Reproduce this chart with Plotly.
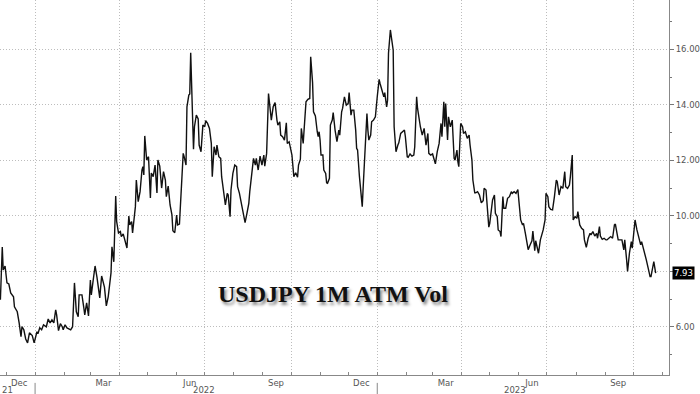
import plotly.graph_objects as go

dates = """2021-11-25 2021-11-27 2021-11-28 2021-11-30 2021-12-02 2021-12-04 2021-12-06 2021-12-09 2021-12-10 2021-12-13
2021-12-15 2021-12-17 2021-12-18 2021-12-20 2021-12-22 2021-12-24 2021-12-26 2021-12-29 2021-12-31 2022-01-03
2022-01-04 2022-01-06 2022-01-08 2022-01-10 2022-01-13 2022-01-15 2022-01-17 2022-01-19 2022-01-21 2022-01-23
2022-01-24 2022-01-26 2022-01-28 2022-01-30 2022-01-31 2022-02-02 2022-02-04 2022-02-08 2022-02-10 2022-02-12
2022-02-14 2022-02-16 2022-02-17 2022-02-20 2022-02-22 2022-02-23 2022-02-25 2022-02-27 2022-03-01 2022-03-02
2022-03-04 2022-03-06 2022-03-08 2022-03-11 2022-03-13 2022-03-16 2022-03-18 2022-03-20 2022-03-23 2022-03-24
2022-03-26 2022-03-28 2022-03-29 2022-03-31 2022-04-02 2022-04-03 2022-04-05 2022-04-07 2022-04-09 2022-04-11
2022-04-12 2022-04-14 2022-04-15 2022-04-18 2022-04-19 2022-04-21 2022-04-23 2022-04-25 2022-04-26 2022-04-27
2022-04-28 2022-04-30 2022-05-02 2022-05-04 2022-05-05 2022-05-07 2022-05-09 2022-05-11 2022-05-12 2022-05-14
2022-05-16 2022-05-18 2022-05-20 2022-05-21 2022-05-23 2022-05-25 2022-05-27 2022-05-28 2022-05-30 2022-06-01
2022-06-02 2022-06-04 2022-06-06 2022-06-08 2022-06-09 2022-06-11 2022-06-12 2022-06-14 2022-06-15 2022-06-16
2022-06-19 2022-06-20 2022-06-22 2022-06-24 2022-06-25 2022-06-27 2022-06-29 2022-07-01 2022-07-02 2022-07-04
2022-07-06 2022-07-08 2022-07-09 2022-07-11 2022-07-13 2022-07-14 2022-07-16 2022-07-18 2022-07-19 2022-07-21
2022-07-23 2022-07-25 2022-07-26 2022-07-28 2022-07-29 2022-07-31 2022-08-02 2022-08-04 2022-08-05 2022-08-07
2022-08-09 2022-08-11 2022-08-13 2022-08-15 2022-08-17 2022-08-18 2022-08-20 2022-08-22 2022-08-24 2022-08-25
2022-08-27 2022-08-29 2022-08-31 2022-09-02 2022-09-03 2022-09-05 2022-09-07 2022-09-09 2022-09-10 2022-09-12
2022-09-14 2022-09-16 2022-09-17 2022-09-19 2022-09-20 2022-09-22 2022-09-24 2022-09-26 2022-09-27 2022-09-29
2022-10-01 2022-10-02 2022-10-04 2022-10-06 2022-10-08 2022-10-09 2022-10-11 2022-10-12 2022-10-14 2022-10-16
2022-10-17 2022-10-19 2022-10-21 2022-10-22 2022-10-24 2022-10-25 2022-10-27 2022-10-29 2022-10-30 2022-10-31
2022-11-01 2022-11-02 2022-11-04 2022-11-05 2022-11-07 2022-11-08 2022-11-09 2022-11-11 2022-11-12 2022-11-14
2022-11-15 2022-11-17 2022-11-19 2022-11-21 2022-11-22 2022-11-24 2022-11-25 2022-11-27 2022-11-29 2022-12-01
2022-12-02 2022-12-04 2022-12-05 2022-12-07 2022-12-09 2022-12-10 2022-12-11 2022-12-13 2022-12-15 2022-12-16
2022-12-17 2022-12-19 2022-12-21 2022-12-22 2022-12-23 2022-12-25 2022-12-26 2022-12-28 2022-12-30 2023-01-01
2023-01-03 2023-01-04 2023-01-06 2023-01-08 2023-01-09 2023-01-11 2023-01-12 2023-01-13 2023-01-15 2023-01-16
2023-01-18 2023-01-19 2023-01-21 2023-01-23 2023-01-24 2023-01-26 2023-01-28 2023-01-30 2023-01-31 2023-02-02
2023-02-03 2023-02-05 2023-02-07 2023-02-09 2023-02-10 2023-02-12 2023-02-13 2023-02-15 2023-02-16 2023-02-18
2023-02-20 2023-02-22 2023-02-24 2023-02-25 2023-02-27 2023-03-01 2023-03-03 2023-03-04 2023-03-06 2023-03-08
2023-03-10 2023-03-11 2023-03-13 2023-03-14 2023-03-15 2023-03-17 2023-03-18 2023-03-20 2023-03-22 2023-03-24
2023-03-25 2023-03-27 2023-03-28 2023-03-29 2023-03-31 2023-04-02 2023-04-03 2023-04-05 2023-04-07 2023-04-09
2023-04-10 2023-04-12 2023-04-13 2023-04-15 2023-04-16 2023-04-18 2023-04-20 2023-04-22 2023-04-24 2023-04-25
2023-04-27 2023-04-29 2023-04-30 2023-05-01 2023-05-03 2023-05-04 2023-05-06 2023-05-07 2023-05-09 2023-05-10
2023-05-12 2023-05-13 2023-05-15 2023-05-16 2023-05-18 2023-05-20 2023-05-22 2023-05-24 2023-05-25 2023-05-27
2023-05-29 2023-05-31 2023-06-01 2023-06-03 2023-06-05 2023-06-06 2023-06-08 2023-06-10 2023-06-11 2023-06-13
2023-06-15 2023-06-16 2023-06-18 2023-06-19 2023-06-20 2023-06-22 2023-06-24 2023-06-27 2023-06-29 2023-06-30
2023-07-02 2023-07-03 2023-07-05 2023-07-07 2023-07-09 2023-07-11 2023-07-12 2023-07-14 2023-07-16 2023-07-18
2023-07-20 2023-07-21 2023-07-23 2023-07-25 2023-07-26 2023-07-28 2023-07-29 2023-07-31 2023-08-02 2023-08-03
2023-08-05 2023-08-07 2023-08-09 2023-08-10 2023-08-12 2023-08-14 2023-08-16 2023-08-17 2023-08-19 2023-08-21
2023-08-23 2023-08-24 2023-08-26 2023-08-27 2023-08-29 2023-08-31 2023-09-02 2023-09-03 2023-09-05 2023-09-07
2023-09-09 2023-09-11 2023-09-12 2023-09-14 2023-09-15 2023-09-17 2023-09-19 2023-09-21 2023-09-22 2023-09-24
2023-09-25 2023-09-27 2023-09-29 2023-09-30 2023-10-01 2023-10-03 2023-10-05 2023-10-07 2023-10-09 2023-10-10
2023-10-12 2023-10-14 2023-10-15 2023-10-17 2023-10-19 2023-10-20 2023-10-22 2023-10-23 2023-10-25""".split()

vol = [
    6.97, 8.87, 8.05, 8.19, 7.58, 7.54, 7.22, 7.08, 6.72, 6.54,
    6.14, 5.64, 6.00, 5.89, 5.56, 5.42, 5.78, 5.68, 5.42, 5.82,
    5.75, 5.96, 5.89, 6.07, 6.00, 6.28, 6.14, 6.25, 6.14, 6.61,
    6.43, 5.86, 6.11, 6.00, 5.89, 6.07, 5.96, 5.89, 6.00, 7.58,
    6.54, 6.36, 7.15, 7.15, 6.68, 6.43, 6.86, 6.39, 7.68, 7.15,
    7.68, 8.19, 7.79, 7.04, 7.83, 7.43, 6.75, 7.08, 7.94, 8.88,
    8.34, 10.71, 9.80, 9.38, 9.43, 9.25, 9.35, 9.13, 8.84, 9.99,
    9.67, 9.79, 9.38, 10.33, 11.29, 10.51, 10.87, 11.65, 11.77, 11.47,
    12.88, 12.01, 12.13, 10.64, 11.54, 11.41, 11.83, 10.82, 12.01, 11.79,
    11.00, 11.59, 11.29, 10.69, 11.07, 10.39, 10.03, 9.46, 9.39, 10.03,
    9.67, 9.70, 11.11, 12.25, 12.13, 11.83, 13.93, 14.35, 14.39, 15.88,
    12.40, 13.21, 13.63, 13.49, 12.55, 12.31, 13.27, 13.21, 13.43, 13.33,
    13.15, 12.61, 11.41, 12.49, 12.19, 12.55, 12.13, 12.07, 11.41, 10.81,
    10.39, 10.81, 10.75, 9.97, 10.93, 11.53, 11.83, 11.77, 11.05, 10.81,
    10.45, 10.03, 9.75, 10.09, 10.45, 10.87, 11.53, 12.07, 11.83, 12.07,
    11.65, 12.15, 11.83, 12.19, 11.79, 12.25, 14.41, 13.75, 13.45, 13.93,
    14.08, 13.45, 13.27, 13.39, 12.91, 12.85, 12.73, 13.35, 12.61, 12.67,
    12.31, 12.19, 11.41, 11.55, 11.39, 11.83, 12.04, 13.15, 12.61, 13.93,
    14.11, 14.20, 14.23, 15.73, 14.80, 13.75, 13.60, 13.03, 12.85, 13.03,
    12.73, 12.19, 12.19, 11.65, 11.53, 11.19, 11.17, 11.35, 13.27, 13.45,
    13.72, 13.09, 12.67, 13.09, 12.91, 13.75, 13.87, 14.29, 13.99, 14.05,
    14.44, 13.63, 13.81, 13.81, 13.09, 12.43, 12.37, 11.41, 10.57, 10.33,
    11.05, 12.25, 13.69, 13.09, 12.73, 12.91, 13.39, 13.45, 13.57, 14.29,
    14.92, 14.77, 14.53, 14.29, 14.44, 13.93, 14.17, 15.86, 16.70, 16.40,
    15.97, 13.21, 12.31, 12.55, 12.63, 12.97, 13.03, 13.09, 12.85, 12.13,
    12.11, 12.23, 12.15, 12.19, 12.49, 14.29, 13.87, 13.33, 13.21, 12.91,
    13.15, 12.55, 12.97, 12.25, 12.19, 12.23, 12.01, 11.87, 12.31, 12.61,
    13.33, 12.85, 14.11, 13.21, 14.05, 12.73, 13.57, 13.21, 13.45, 12.07,
    12.01, 12.37, 11.95, 11.77, 13.33, 13.21, 12.97, 13.03, 12.79, 12.91,
    12.55, 12.01, 11.29, 10.83, 10.83, 10.87, 10.75, 10.47, 10.54, 10.99,
    10.93, 10.15, 9.59, 9.73, 10.39, 10.57, 10.75, 10.09, 9.97, 9.49,
    9.43, 9.25, 10.69, 10.27, 10.27, 10.63, 10.69, 10.87, 10.81, 10.87,
    10.81, 10.95, 10.57, 9.85, 9.67, 9.73, 9.37, 9.05, 8.78, 8.95,
    9.10, 9.45, 8.74, 9.10, 8.95, 8.65, 9.13, 9.49, 9.85, 10.81,
    10.69, 10.33, 10.23, 10.21, 10.69, 11.29, 11.23, 10.75, 11.05, 10.99,
    11.59, 11.05, 10.99, 11.11, 11.41, 12.19, 9.85, 9.97, 9.91, 10.15,
    9.67, 9.55, 9.49, 9.13, 8.86, 9.19, 9.37, 9.31, 9.43, 9.27,
    9.37, 9.19, 9.61, 9.27, 9.15, 9.19, 9.13, 9.13, 9.19, 9.25,
    9.19, 9.67, 9.70, 9.25, 9.13, 9.13, 9.13, 8.77, 9.13, 8.41,
    7.99, 8.65, 9.07, 8.83, 9.25, 9.85, 9.49, 9.25, 8.95, 9.07,
    8.83, 8.55, 8.41, 8.11, 7.81, 7.81, 8.23, 8.35, 7.93,
]

month_label_dates = ["2021-12-15", "2022-03-15", "2022-06-15", "2022-09-15",
                     "2022-12-15", "2023-03-15", "2023-06-15", "2023-09-15"]
month_labels = ["Dec", "Mar", "Jun", "Sep", "Dec", "Mar", "Jun", "Sep"]
quarter_grid = ["2022-01-01", "2022-04-01", "2022-07-01", "2022-10-01",
                "2023-01-01", "2023-04-01", "2023-07-01", "2023-10-01"]
year_labels = ["2022", "2023"]
year_label_dates = ["2022-06-30", "2023-05-28"]
year_bounds = ["2022-01-01", "2023-01-01"]
y_ticks = [6, 8, 10, 12, 14, 16]
y_ticktext = ["6.00", "", "10.00", "12.00", "14.00", "16.00"]  # 8.00 sits under the last-value tag
x_range = ["2021-11-24 14:00", "2023-11-08 05:00"]
y_range = [4.26, 17.78]
last_value = vol[-1]

axis_font = dict(family="DejaVu Sans", size=8.5, color="#555555")
grid_dash = "1px,2px"
grid_color = "#bdbdbd"

fig = go.Figure()
fig.add_trace(go.Scatter(x=dates, y=vol, mode="lines",
                         line=dict(color="#111111", width=1.4),
                         hoverinfo="skip", showlegend=False))
# helper trace so the quarter-grid axis is drawn
fig.add_trace(go.Scatter(x=[dates[0]], y=[vol[0]], xaxis="x2", mode="lines",
                         line=dict(width=0), hoverinfo="skip", showlegend=False))

fig.update_layout(
    width=700, height=394,
    margin=dict(l=0, r=27, t=0, b=19),
    paper_bgcolor="white", plot_bgcolor="white",
    xaxis=dict(type="date", range=x_range, tickmode="array",
               tickvals=month_label_dates, ticktext=month_labels,
               ticks="", showgrid=False, zeroline=False,
               showline=True, linecolor="#888888", linewidth=1,
               tickfont=axis_font, ticklabelstandoff=0,
               minor=dict(dtick="M1", tick0="2021-11-01", ticks="inside",
                          ticklen=3, tickcolor="#888888", showgrid=False)),
    xaxis2=dict(type="date", range=x_range, overlaying="x", tickmode="array",
                tickvals=quarter_grid, showticklabels=False, ticks="",
                showgrid=True, gridcolor=grid_color, griddash=grid_dash, gridwidth=1,
                showline=False, zeroline=False, layer="below traces"),
    yaxis=dict(side="right", range=y_range, tickmode="array", tickvals=y_ticks,
               ticktext=y_ticktext, ticks="outside", ticklen=4, tickcolor="#777777",
               showgrid=True, gridcolor=grid_color, griddash=grid_dash, gridwidth=1,
               showline=True, linecolor="#888888", linewidth=1, zeroline=False,
               tickfont=axis_font,
               minor=dict(dtick=1, ticks="outside", ticklen=2,
                          tickcolor="#777777", showgrid=False)),
)

for txt, xd in zip(year_labels, year_label_dates):
    fig.add_annotation(x=xd, xref="x", y=-0.041, yref="paper", text=txt,
                       showarrow=False, font=axis_font, yanchor="middle")
fig.add_annotation(x=0, xref="paper", y=-0.041, yref="paper", text="21",
                   showarrow=False, font=axis_font, xanchor="left", yanchor="middle")
for xb in year_bounds:
    fig.add_shape(type="line", x0=xb, x1=xb, xref="x", y0=-0.021, y1=-0.055,
                  yref="paper", line=dict(color="#888888", width=1))

fig.add_annotation(x=1.004, xref="paper", y=last_value, yref="y",
                   text=f"{last_value:.2f}", showarrow=False, xanchor="left",
                   bgcolor="black", borderpad=1,
                   font=dict(family="DejaVu Sans", size=8.5, color="white"))

fig.add_annotation(x=0.498, xref="paper", y=0.176, yref="paper",
                   text="<b>USDJPY 1M ATM Vol</b>", showarrow=False,
                   font=dict(family="Liberation Serif", size=24, color="#111111",
                             shadow="2px 3px 3px #8a8a8a"))

fig.write_html("out.html")
